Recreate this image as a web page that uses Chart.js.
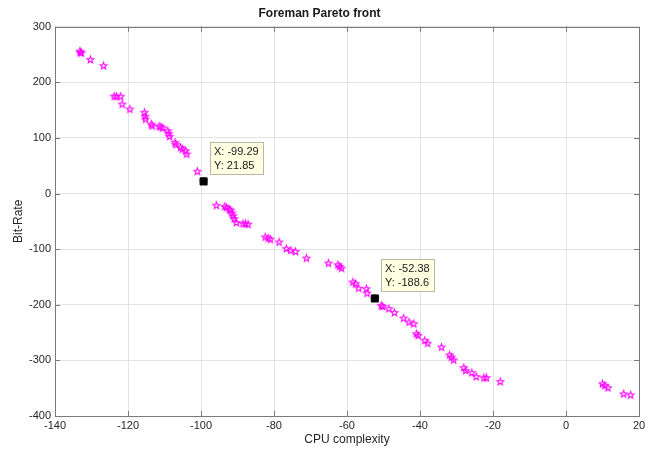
<!DOCTYPE html>
<html>
<head>
<meta charset="utf-8">
<script src="https://cdn.jsdelivr.net/npm/chart.js@4"></script>
<style>
html,body{margin:0;padding:0;background:#fff;}
#wrap{width:656px;height:449px;}
</style>
</head>
<body>
<div id="wrap"><canvas id="c" width="656" height="449"></canvas></div>
<script>
const cpuComplexity = [-133.2,-133.0,-132.8,-130.3,-126.7,-123.8,-123.2,-122.0,-121.6,-119.5,-115.5,-115.3,-115.2,-113.6,-113.4,-111.5,-111.0,-110.5,-109.1,-108.8,-108.6,-107.1,-106.9,-105.6,-105.1,-104.2,-103.9,-101.0,-99.29,-95.8,-93.5,-93.0,-92.3,-91.9,-91.5,-91.2,-90.9,-90.3,-88.5,-87.8,-87.1,-82.4,-81.6,-81.0,-78.6,-76.6,-75.4,-74.1,-71.1,-65.1,-62.5,-62.0,-61.5,-58.4,-57.7,-56.8,-54.7,-54.5,-52.38,-50.6,-50.2,-48.5,-47.0,-44.5,-43.0,-41.7,-41.0,-40.5,-38.7,-37.9,-34.1,-31.9,-31.4,-30.8,-28.0,-27.5,-25.8,-24.6,-22.5,-21.8,-18.0,10.0,10.6,11.5,15.8,17.7];
const bitRate = [256,254,253,241,230,175,175,175,161,152,146,139,134,125,122,121,120,118,113,108,103,92,88,83,80,77,71,40,21.85,-21,-23,-25,-28,-30,-35,-40,-45,-52,-54,-54,-55,-78,-80,-82,-87,-99,-102,-104,-116,-125,-128,-131,-134,-159,-162,-170,-171,-179,-188.6,-201,-203,-207,-214,-224,-231,-234,-252,-255,-264,-269,-276,-290,-294,-299,-313,-318,-322,-329,-331,-331,-338,-342,-345,-349,-360,-362];
const tipX = [-99.29, -52.38];
const tipY = [21.85, -188.6];
const tipLabelX = ['-99.29', '-52.38'];
const tipLabelY = ['21.85', '-188.6'];
const xTicks = [-140,-120,-100,-80,-60,-40,-20,0,20];
const yTicks = [-400,-300,-200,-100,0,100,200,300];

// pentagram marker
function makeStar(){
  const s = 11, c = document.createElement('canvas');
  c.width = s; c.height = s;
  const g = c.getContext('2d');
  const R = 3.6, r = 1.5, cx = s/2, cy = s/2 + 0.3;
  g.beginPath();
  for (let i = 0; i < 10; i++) {
    const rad = (i % 2 === 0) ? R : r;
    const a = -Math.PI/2 + i*Math.PI/5;
    const px = cx + rad*Math.cos(a), py = cy + rad*Math.sin(a);
    if (i === 0) g.moveTo(px, py); else g.lineTo(px, py);
  }
  g.closePath();
  g.strokeStyle = '#ff00ff';
  g.lineWidth = 1.1;
  g.stroke();
  return c;
}
const star = makeStar();

const FONT = "'Liberation Sans', Arial, Helvetica, sans-serif";

const boxPlugin = {
  id: 'matlabBox',
  afterDatasetsDraw(chart){
    const {ctx, chartArea: a, scales} = chart;
    ctx.save();
    ctx.strokeStyle = '#7a7a7a';
    ctx.lineWidth = 1;
    ctx.strokeRect(Math.round(a.left)+0.5, Math.round(a.top)+0.5, Math.round(a.right-a.left), Math.round(a.bottom-a.top));
    const tl = 5;
    ctx.beginPath();
    xTicks.forEach(v => {
      const x = Math.round(scales.x.getPixelForValue(v)) + 0.5;
      ctx.moveTo(x, a.bottom); ctx.lineTo(x, a.bottom - tl);
      ctx.moveTo(x, a.top); ctx.lineTo(x, a.top + tl);
    });
    yTicks.forEach(v => {
      const y = Math.round(scales.y.getPixelForValue(v)) + 0.5;
      ctx.moveTo(a.left, y); ctx.lineTo(a.left + tl, y);
      ctx.moveTo(a.right, y); ctx.lineTo(a.right - tl, y);
    });
    ctx.stroke();
    ctx.restore();
  },
  afterDraw(chart){
    const {ctx, scales} = chart;
    ctx.save();
    ctx.font = '11px ' + FONT;
    ctx.textBaseline = 'middle';
    tipX.forEach((v, i) => {
      const px = scales.x.getPixelForValue(v);
      const py = scales.y.getPixelForValue(tipY[i]);
      const l1 = 'X: ' + tipLabelX[i], l2 = 'Y: ' + tipLabelY[i];
      const w = Math.ceil(Math.max(ctx.measureText(l1).width, ctx.measureText(l2).width)) + 8;
      const h = 32;
      const bx = Math.round(px + 6) + 0.5, by = Math.round(py - 39) + 0.5;
      ctx.fillStyle = '#ffffe1';
      ctx.fillRect(bx, by, w, h);
      ctx.strokeStyle = '#b8b8a8';
      ctx.lineWidth = 1;
      ctx.strokeRect(bx, by, w, h);
      ctx.fillStyle = '#1a1a1a';
      ctx.textAlign = 'left';
      ctx.fillText(l1, bx + 3.5, by + 9.5);
      ctx.fillText(l2, bx + 3.5, by + 23.5);
    });
    ctx.restore();
  }
};

new Chart(document.getElementById('c'), {
  type: 'scatter',
  data: {
    datasets: [
      {
        label: 'cursor',
        data: tipX.map((x, i) => ({x, y: tipY[i]})),
        pointStyle: 'rect',
        pointRadius: 5,
        backgroundColor: '#000',
        borderColor: '#000',
        borderWidth: 1
      },
      {
        label: 'Pareto',
        data: cpuComplexity.map((x, i) => ({x, y: bitRate[i]})),
        pointStyle: star,
        pointRadius: 4,
        backgroundColor: '#ff00ff',
        borderColor: '#ff00ff'
      }
    ]
  },
  options: {
    responsive: false,
    animation: false,
    events: [],
    layout: { padding: { left: 0, right: 17, top: 0, bottom: 0 } },
    plugins: {
      legend: { display: false },
      tooltip: { enabled: false },
      title: {
        display: true,
        text: 'Foreman Pareto front',
        color: '#1a1a1a',
        font: { family: FONT, size: 12, weight: 'bold', lineHeight: 1.1 },
        padding: { top: 7, bottom: 6.5 }
      }
    },
    scales: {
      x: {
        type: 'linear',
        min: -140, max: 20,
        afterFit(s){ s.height = 33; },
        afterBuildTicks(s){ s.ticks = xTicks.map(v => ({value: v})); },
        grid: { color: '#e3e3e3', drawTicks: false, lineWidth: 1 },
        border: { display: false },
        ticks: { color: '#262626', font: { family: FONT, size: 11 }, padding: 3, maxRotation: 0 },
        title: { display: true, text: 'CPU complexity', color: '#262626', font: { family: FONT, size: 12 }, padding: { top: 0, bottom: 2 } }
      },
      y: {
        type: 'linear',
        min: -400, max: 300,
        afterFit(s){ s.width = 55; },
        afterBuildTicks(s){ s.ticks = yTicks.map(v => ({value: v})); },
        grid: { color: '#e3e3e3', drawTicks: false, lineWidth: 1 },
        border: { display: false },
        ticks: { color: '#262626', font: { family: FONT, size: 11 }, padding: 4 },
        title: { display: true, text: 'Bit-Rate', color: '#262626', font: { family: FONT, size: 12 }, padding: { top: 11, bottom: 0 } }
      }
    }
  },
  plugins: [boxPlugin]
});
</script>
</body>
</html>
